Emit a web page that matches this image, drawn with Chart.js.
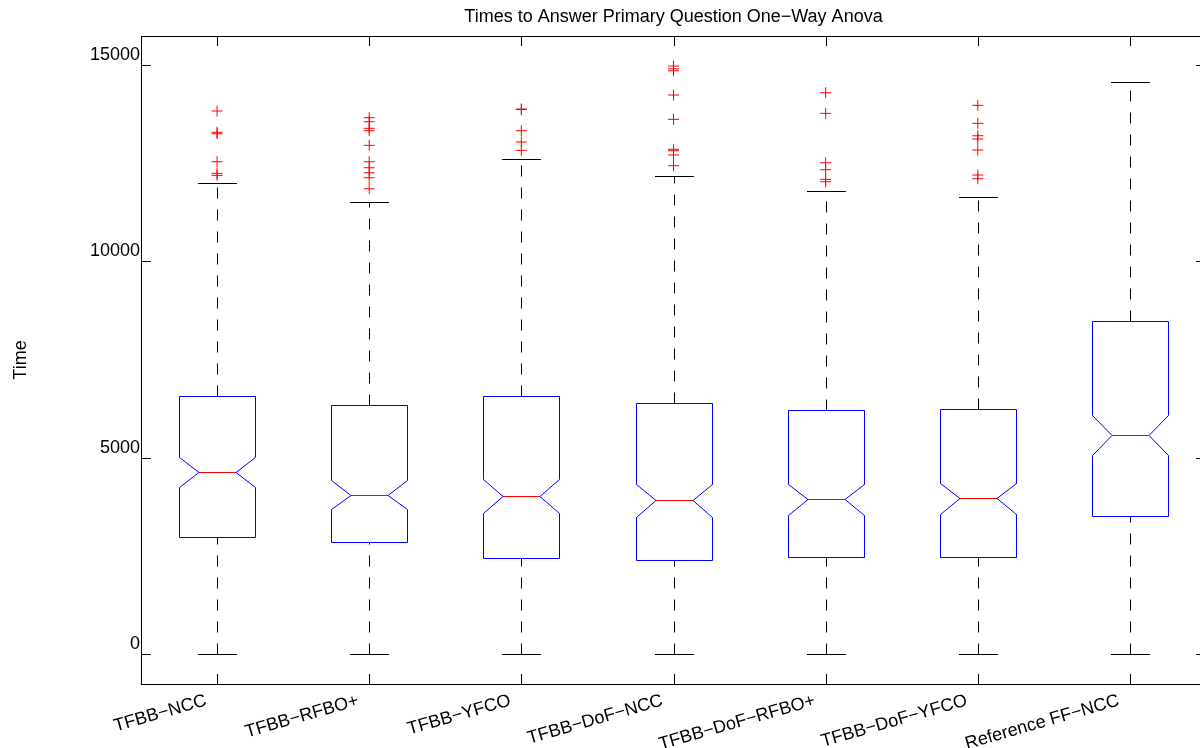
<!DOCTYPE html>
<html>
<head>
<meta charset="utf-8">
<script src="https://cdn.jsdelivr.net/npm/chart.js@4.4.0/dist/chart.umd.min.js"></script>
<style>
  html, body { margin: 0; padding: 0; background: #fff; overflow: hidden; }
  #plot { display: block; }
</style>
</head>
<body>
<canvas id="plot" width="1220" height="748"></canvas>
<script>
// groups and their box statistics
const categories = ['TFBB−NCC', 'TFBB−RFBO+', 'TFBB−YFCO', 'TFBB−DoF−NCC', 'TFBB−DoF−RFBO+', 'TFBB−DoF−YFCO', 'Reference FF−NCC'];
const whiskerLo = [0, 0, 0, 0, 0, 0, 0];
const q1 = [2976, 2849, 2442, 2399, 2468, 2475, 3526];
const notchLo = [4264, 3689, 3595, 3500, 3551, 3569, 5070];
const medians = [4638, 4052, 4027, 3925, 3951, 3968, 5579];
const notchHi = [5011, 4434, 4460, 4332, 4332, 4350, 6095];
const q3 = [6578, 6350, 6571, 6385, 6207, 6240, 8471];
const whiskerHi = [11982, 11514, 12600, 12175, 11778, 11625, 14567];
const outliers = [
  [13821, 13280, 13243, 12531, 12236, 12185],
  [13651, 13549, 13381, 13320, 12948, 12531, 12379, 12251, 12124, 11844],
  [13872, 13860, 13320, 13032, 12821],
  [14966, 14897, 14846, 14228, 13610, 12847, 12811, 12702, 12430],
  [14287, 13762, 12506, 12328, 12083, 12022],
  [13966, 13508, 13193, 13109, 12829, 12193, 12099],
  []
];
const yTicks = [0, 5000, 10000, 15000];
const yMin = -755;
const yMax = 15730;

const chartTitle = 'Times to Answer Primary Question One−Way Anova';
const family = '"Liberation Sans", Arial, Helvetica, sans-serif';

const crisp = v => Math.round(v) + 0.5;

// notched boxes, dashed whiskers, axis frame and inward ticks
const boxPlotPlugin = {
  id: 'notchedBoxes',
  beforeDatasetsDraw(chart) {
    const { ctx, chartArea: area, scales: { x, y } } = chart;
    const band = x.getPixelForValue(1) - x.getPixelForValue(0);
    const half = band * 0.25;
    const inset = band * 0.125;
    const capHalf = band * 0.125;
    const py = v => crisp(y.getPixelForValue(v));

    ctx.save();
    ctx.lineWidth = 1;
    ctx.strokeStyle = '#000';
    ctx.strokeRect(crisp(area.left), crisp(area.top),
      Math.round(area.right - area.left), Math.round(area.bottom - area.top));

    ctx.beginPath();
    y.ticks.forEach(t => {
      const ty = py(t.value);
      ctx.moveTo(area.left, ty); ctx.lineTo(area.left + 10, ty);
      ctx.moveTo(area.right, ty); ctx.lineTo(area.right - 10, ty);
    });
    categories.forEach((_, i) => {
      const tx = crisp(x.getPixelForValue(i));
      ctx.moveTo(tx, area.top); ctx.lineTo(tx, area.top + 10);
      ctx.moveTo(tx, area.bottom); ctx.lineTo(tx, area.bottom - 10);
    });
    ctx.stroke();

    categories.forEach((_, i) => {
      const cx = crisp(x.getPixelForValue(i));

      // whiskers
      ctx.strokeStyle = '#000';
      ctx.setLineDash([11, 11]);
      ctx.beginPath();
      ctx.moveTo(cx, py(q3[i])); ctx.lineTo(cx, py(whiskerHi[i]));
      ctx.moveTo(cx, py(whiskerLo[i])); ctx.lineTo(cx, py(q1[i]));
      ctx.stroke();
      ctx.setLineDash([]);
      ctx.beginPath();
      [whiskerHi[i], whiskerLo[i]].forEach(v => {
        ctx.moveTo(Math.round(cx - capHalf), py(v));
        ctx.lineTo(Math.round(cx + capHalf), py(v));
      });
      ctx.stroke();

      // notched box
      const L = crisp(cx - half), R = crisp(cx - 0.5 + half);
      const Li = Math.round(L + inset), Ri = Math.round(R - inset);
      ctx.fillStyle = '#fff';
      ctx.strokeStyle = '#0000ff';
      ctx.beginPath();
      ctx.moveTo(L, py(q3[i]));
      ctx.lineTo(R, py(q3[i]));
      ctx.lineTo(R, py(notchHi[i]));
      ctx.lineTo(Ri, py(medians[i]));
      ctx.lineTo(R, py(notchLo[i]));
      ctx.lineTo(R, py(q1[i]));
      ctx.lineTo(L, py(q1[i]));
      ctx.lineTo(L, py(notchLo[i]));
      ctx.lineTo(Li, py(medians[i]));
      ctx.lineTo(L, py(notchHi[i]));
      ctx.closePath();
      ctx.fill();
      ctx.stroke();

      // median
      ctx.strokeStyle = '#ff0000';
      ctx.beginPath();
      ctx.moveTo(Li, py(medians[i]));
      ctx.lineTo(Ri, py(medians[i]));
      ctx.stroke();
    });
    ctx.restore();
  },
  afterDraw(chart) {
    const { ctx, chartArea: area } = chart;
    ctx.save();
    ctx.fillStyle = '#000';
    ctx.font = '18px ' + family;
    ctx.textAlign = 'center';
    ctx.textBaseline = 'middle';
    ctx.fillText(chartTitle, (area.left + area.right) / 2, 17);
    ctx.restore();
  }
};

// outliers keyed by category name so the category scale places them
const outlierPoints = outliers.flatMap((vals, i) => vals.map(v => ({ x: categories[i], y: v })));

new Chart(document.getElementById('plot'), {
  type: 'scatter',
  data: {
    labels: categories,
    datasets: [{
      data: outlierPoints,
      pointStyle: 'cross',
      pointRadius: 5.5,
      borderColor: '#ff0000',
      backgroundColor: '#ff0000',
      borderWidth: 1
    }]
  },
  options: {
    responsive: false,
    animation: false,
    layout: { padding: { top: 36, right: 14, left: 0, bottom: 0 } },
    plugins: { legend: { display: false }, tooltip: { enabled: false }, title: { display: false } },
    scales: {
      x: {
        type: 'category',
        offset: true,
        afterFit: s => { s.height = 64; },
        grid: { display: false, drawTicks: false },
        border: { display: false },
        ticks: {
          autoSkip: false,
          minRotation: 16,
          maxRotation: 16,
          padding: 6,
          labelOffset: -11,
          color: '#000',
          font: { family, size: 18 }
        }
      },
      y: {
        type: 'linear',
        min: yMin,
        max: yMax,
        afterBuildTicks: s => { s.ticks = yTicks.map(v => ({ value: v })); },
        afterFit: s => { s.width = 141; },
        grid: { display: false, drawTicks: false },
        border: { display: false },
        ticks: {
          padding: 1,
          labelOffset: -10,
          color: '#000',
          font: { family, size: 18 },
          callback: v => String(v)
        },
        title: {
          display: true,
          text: 'Time',
          color: '#000',
          font: { family, size: 18 },
          padding: { top: 10, bottom: 0 }
        }
      }
    }
  },
  plugins: [boxPlotPlugin]
});
</script>
</body>
</html>
